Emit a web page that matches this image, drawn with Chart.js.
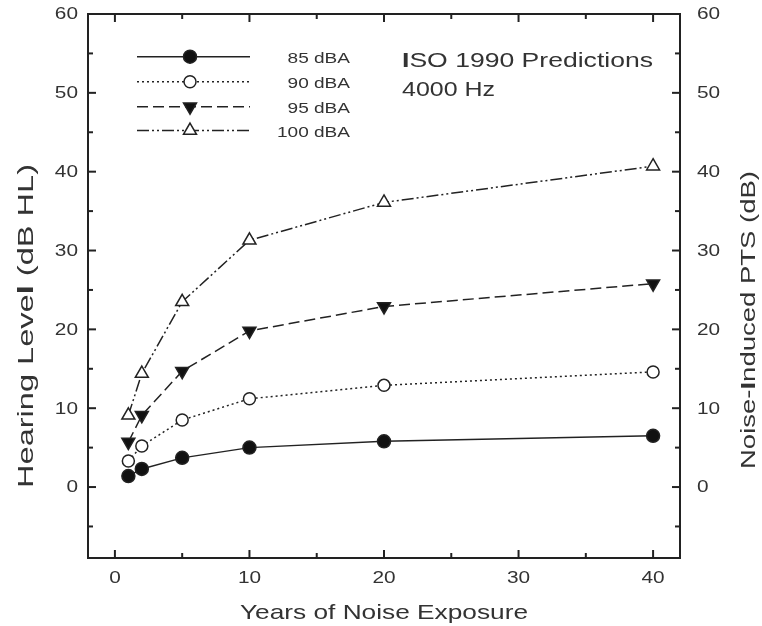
<!DOCTYPE html>
<html><head><meta charset="utf-8">
<script src="https://cdn.jsdelivr.net/npm/chart.js@4.4.0/dist/chart.umd.min.js"></script>
<style>html,body{margin:0;padding:0;background:#fff;} #wrap{width:762px;height:626px;}</style>
</head><body><div id="wrap"><canvas id="c" width="762" height="626"></canvas></div>
<script>
// ---- data ----
const years = [1, 2, 5, 10, 20, 40];
const seriesNames = ['85 dBA', '90 dBA', '95 dBA', '100 dBA'];
const hl85  = [1.4, 2.3, 3.7, 5.0, 5.8, 6.5];
const hl90  = [3.3, 5.2, 8.5, 11.2, 12.9, 14.6];
const hl95  = [5.7, 9.1, 14.7, 19.8, 22.9, 25.8];
const hl100 = [9.1, 14.4, 23.5, 31.3, 36.1, 40.7];
const xMajorTicks = [0, 10, 20, 30, 40];
const xMinorTicks = [5, 15, 25, 35];
const yMajorTicks = [0, 10, 20, 30, 40, 50, 60];
const yMinorTicks = [-5, 5, 15, 25, 35, 45, 55];
const xTitle = 'Years of Noise Exposure';
const yTitleRuns = [['Hearing Leve', false], ['l', true], [' (dB HL)', false]];
const y2TitleRuns = [['Noise-', false], ['I', true], ['nduced PTS (dB)', false]];
const noteLine1 = [['I', true], ['SO 1990 Predictions', false]];
const noteLine2 = [['4000 Hz', false]];

const FONT = '"Liberation Sans", Arial, Helvetica, sans-serif';
const INK = '#222';
const TXT = '#333';

function pts(vals) { return years.map((x, i) => ({ x: x, y: vals[i] })); }

function drawRuns(ctx, runs, size, x, y, o) {
  o = o || {};
  ctx.save();
  ctx.translate(x, y);
  if (o.rot) ctx.rotate(o.rot);
  let widths = [], W = 0;
  runs.forEach(r => {
    ctx.font = (r[1] ? 'bold ' : '') + size + 'px ' + FONT;
    const w = ctx.measureText(r[0]).width; widths.push(w); W += w;
  });
  const sx = o.target ? o.target / W : (o.sx || 1);
  ctx.scale(sx, 1);
  let cx = o.align === 'center' ? -W / 2 : (o.align === 'right' ? -W : 0);
  ctx.fillStyle = o.color || TXT;
  ctx.textBaseline = o.baseline || 'alphabetic';
  ctx.textAlign = 'left';
  runs.forEach((r, i) => {
    ctx.font = (r[1] ? 'bold ' : '') + size + 'px ' + FONT;
    ctx.fillText(r[0], cx, 0);
    cx += widths[i];
  });
  ctx.restore();
}

const styles = [
  { dash: [], pstyle: 'circle', rot: 0, r: 6.5, fill: '#111' },
  { dash: [2, 3], pstyle: 'circle', rot: 0, r: 6, fill: '#fff' },
  { dash: [11, 5], pstyle: 'triangle', rot: 180, r: 7.5, fill: '#111' },
  { dash: [12, 3, 2, 3, 2, 3], pstyle: 'triangle', rot: 0, r: 7.5, fill: '#fff' }
];
const allVals = [hl85, hl90, hl95, hl100];

const datasets = allVals.map((v, i) => ({
  label: seriesNames[i],
  data: pts(v),
  xAxisID: 'x', yAxisID: 'y',
  borderColor: INK, borderWidth: 1.5, borderDash: styles[i].dash,
  pointStyle: styles[i].pstyle, pointRotation: styles[i].rot,
  pointRadius: styles[i].r, pointHoverRadius: styles[i].r,
  pointBackgroundColor: styles[i].fill, pointBorderColor: INK, pointBorderWidth: 1.5,
  fill: false, tension: 0
}));

const axisCommon = {
  type: 'linear',
  grid: { display: false, drawTicks: false },
  ticks: { display: false },
  border: { display: true, color: INK, width: 2 }
};

const decor = {
  id: 'decor',
  afterDraw(chart) {
    const ctx = chart.ctx, ca = chart.chartArea;
    const xs = chart.scales.x, ys = chart.scales.y;
    ctx.save();
    ctx.strokeStyle = INK; ctx.lineWidth = 2; ctx.setLineDash([]);
    const tick = (list, len) => {
      list.forEach(v => {
        const p = xs.getPixelForValue(v);
        ctx.beginPath(); ctx.moveTo(p, ca.bottom); ctx.lineTo(p, ca.bottom - len); ctx.stroke();
        ctx.beginPath(); ctx.moveTo(p, ca.top); ctx.lineTo(p, ca.top + len); ctx.stroke();
      });
    };
    const ytick = (list, len) => {
      list.forEach(v => {
        const p = ys.getPixelForValue(v);
        ctx.beginPath(); ctx.moveTo(ca.left, p); ctx.lineTo(ca.left + len, p); ctx.stroke();
        ctx.beginPath(); ctx.moveTo(ca.right, p); ctx.lineTo(ca.right - len, p); ctx.stroke();
      });
    };
    tick(xMajorTicks, 8); tick(xMinorTicks, 5);
    ytick(yMajorTicks, 8); ytick(yMinorTicks, 5);
    ctx.restore();

    // tick labels
    xMajorTicks.forEach(v => drawRuns(ctx, [[String(v), false]], 16, xs.getPixelForValue(v), 579, { align: 'center', baseline: 'middle', sx: 1.3 }));
    yMajorTicks.forEach(v => {
      const p = ys.getPixelForValue(v);
      drawRuns(ctx, [[String(v), false]], 16, 78, p + 1, { align: 'right', baseline: 'middle', sx: 1.3 });
      drawRuns(ctx, [[String(v), false]], 16, 697, p + 1, { align: 'left', baseline: 'middle', sx: 1.3 });
    });

    // axis titles
    drawRuns(ctx, [[xTitle, false]], 21, 384, 619, { align: 'center', target: 288 });
    drawRuns(ctx, yTitleRuns, 22, 33, 326, { align: 'center', rot: -Math.PI / 2, target: 324 });
    drawRuns(ctx, y2TitleRuns, 21, 755, 320, { align: 'center', rot: -Math.PI / 2, target: 298 });

    // annotation
    drawRuns(ctx, noteLine1, 20, 402, 66.5, { align: 'left', target: 251 });
    drawRuns(ctx, noteLine2, 20, 402, 96, { align: 'left', target: 93 });

    // legend
    const rowsY = [56.7, 81.7, 106.7, 130.5];
    styles.forEach((s, i) => {
      const yy = rowsY[i];
      ctx.save();
      ctx.strokeStyle = INK; ctx.lineWidth = 1.5; ctx.setLineDash(s.dash);
      ctx.beginPath(); ctx.moveTo(137, yy); ctx.lineTo(250, yy); ctx.stroke();
      ctx.setLineDash([]);
      ctx.fillStyle = s.fill; ctx.lineWidth = 1.5;
      const cx = 190;
      ctx.beginPath();
      if (s.pstyle === 'circle') {
        ctx.arc(cx, yy, s.r, 0, Math.PI * 2);
      } else {
        const r = s.r; let a = s.rot * Math.PI / 180;
        for (let k = 0; k < 3; k++) {
          const px = cx + Math.sin(a) * r, py = yy - Math.cos(a) * r;
          if (k === 0) ctx.moveTo(px, py); else ctx.lineTo(px, py);
          a += 2 * Math.PI / 3;
        }
        ctx.closePath();
      }
      ctx.fill(); ctx.stroke();
      ctx.restore();
      drawRuns(ctx, [[seriesNames[i], false]], 14, 350, yy + 6.5, { align: 'right', sx: 1.36 });
    });
  }
};

new Chart(document.getElementById('c'), {
  type: 'line',
  data: { datasets: datasets },
  options: {
    responsive: false,
    animation: false,
    devicePixelRatio: 1,
    layout: { padding: 0 },
    plugins: { legend: { display: false }, tooltip: { enabled: false } },
    scales: {
      x: Object.assign({}, axisCommon, { position: 'bottom', min: -2, max: 42, afterFit(s) { s.height = 68; } }),
      xTop: Object.assign({}, axisCommon, { position: 'top', min: -2, max: 42, afterFit(s) { s.height = 14; } }),
      y: Object.assign({}, axisCommon, { position: 'left', min: -9, max: 60, afterFit(s) { s.width = 88; } }),
      y2: Object.assign({}, axisCommon, { position: 'right', min: -9, max: 60, afterFit(s) { s.width = 82; } })
    }
  },
  plugins: [decor]
});
</script>
</body></html>
